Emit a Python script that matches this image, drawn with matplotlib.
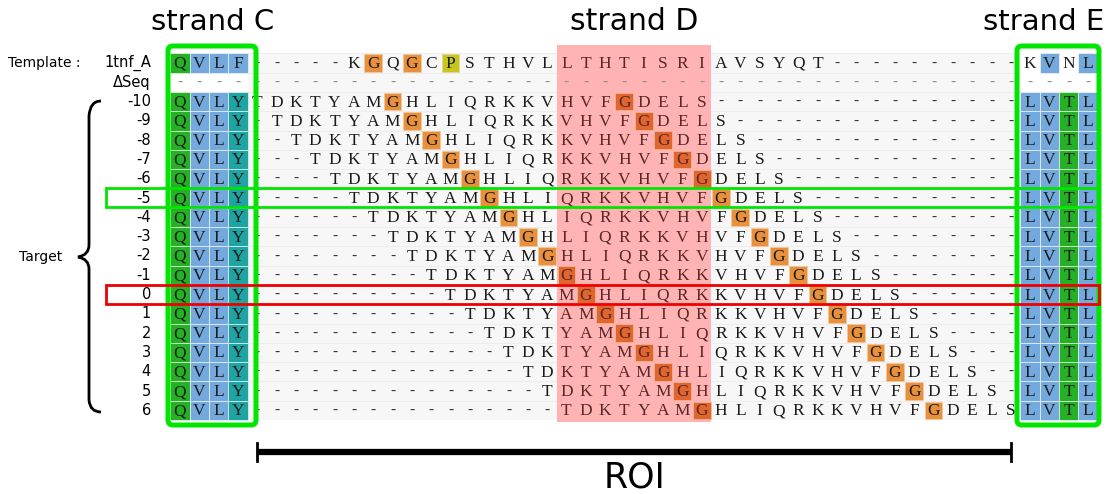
import numpy as np
import matplotlib.pyplot as plt
from matplotlib.patches import Rectangle, FancyBboxPatch, PathPatch
from matplotlib.path import Path

# alignment data
template_name = "1tnf_A"
template_seq = "QVLF" + "-----" + "KGQGCPSTHVL" + "LTHTISRI" + "AVSYQT" + "----------" + "KVNL"
target_core = "TDKTYAMGHLIQRKKVHVFGDELS"
strand_c_target = "QVLY"
strand_e_target = "LVTL"
shifts = [-10, -9, -8, -7, -6, -5, -4, -3, -2, -1, 0, 1, 2, 3, 4, 5, 6]
n_gap = 16

# column blocks
strand_c_cols = (0, 3)
strand_d_cols = (20, 27)
strand_e_cols = (44, 47)
roi_cols = (4, 43)
good_shift = -5
best_shift = 0

# colours
green = "#25b025"
blue = "#74a9dd"
teal = "#20a3a3"
orange = "#e8903c"
orange_d = "#e0652e"
olive = "#c6c61c"
pink = "#ffb3b3"
box_green = "#00e600"

c_colours_tpl = [green, blue, blue, blue]
c_colours_tgt = [green, blue, blue, teal]
e_colours_tpl = [None, blue, None, blue]
e_colours_tgt = [blue, blue, green, blue]

rows = [template_seq, "-" * len(template_seq)]
labels = [template_name, "\u0394Seq"]
for s in shifts:
    k = s - shifts[0]
    rows.append(strand_c_target + "-" * k + target_core + "-" * (n_gap - k) + strand_e_target)
    labels.append(str(s))

ncol = len(template_seq)

# pixel -> grid units (cell = 19.32 x 19.3 px)
def gx(px):
    return (px - 180) / 19.32

def gy(py):
    return (py - 63) / 19.3

fig = plt.figure(figsize=(11.18, 4.94), dpi=100)
ax = fig.add_axes([0, 0, 1, 1])
ax.set_xlim(gx(0), gx(1118))
ax.set_ylim(gy(494), gy(0))
ax.axis("off")

# faint background behind the alignment
ax.add_patch(Rectangle((strand_c_cols[1] + 0.5, -0.5), roi_cols[1] - roi_cols[0] + 1, len(rows),
                       facecolor="#f7f7f7", edgecolor="none", zorder=0))
for r in range(len(rows)):
    ax.plot([3.5, 43.5], [r - 0.5, r - 0.5], color="#ececec", lw=0.6, zorder=0.5)

# strand D band
ax.add_patch(Rectangle((strand_d_cols[0] - 0.5, gy(45)), strand_d_cols[1] - strand_d_cols[0] + 1,
                       gy(422) - gy(45), facecolor=pink, edgecolor="none", zorder=1))

def cell(c, r, col, size=1.0):
    d = (1 - size) / 2
    ax.add_patch(Rectangle((c - 0.5 + d, r - 0.5 + d), size, size, facecolor=col,
                           edgecolor="white" if size == 1.0 else "#f2c9a0",
                           lw=0.4, zorder=2))

for r, seq in enumerate(rows):
    for c, ch in enumerate(seq):
        colour = None
        if r == 0:
            if c <= 3:
                colour = c_colours_tpl[c]
            elif c >= strand_e_cols[0]:
                colour = e_colours_tpl[c - strand_e_cols[0]]
            elif ch == "G":
                colour = orange
            elif ch == "P":
                colour = olive
        elif r >= 2:
            if c <= 3:
                colour = c_colours_tgt[c]
            elif c >= strand_e_cols[0]:
                colour = e_colours_tgt[c - strand_e_cols[0]]
            elif ch == "G":
                colour = orange_d if strand_d_cols[0] <= c <= strand_d_cols[1] else orange
        if colour is not None:
            small = ch == "G" or ch == "P"
            cell(c, r, colour, 0.92 if small else 1.0)
        if ch == "-":
            tc = "#8c8c8c" if r == 1 else "#333333"
            ax.text(c, r, "-", ha="center", va="center", fontsize=11, color=tc,
                    family="Liberation Serif", zorder=3)
        else:
            in_d = strand_d_cols[0] <= c <= strand_d_cols[1]
            tc = "#5a2626" if in_d else "#1a1a1a"
            ax.text(c, r + 0.05, ch, ha="center", va="center", fontsize=12.5, color=tc,
                    family="Liberation Serif", zorder=3)

# row labels
ax.text(gx(8), 0, "Template :", ha="left", va="center", fontsize=10, family="DejaVu Sans")
for r, lab in enumerate(labels):
    ax.text(gx(151), r, lab, ha="right", va="center", fontsize=10.5, family="DejaVu Sans")
ax.text(gx(41), gy(257), "Target", ha="center", va="center", fontsize=10, family="DejaVu Sans")

# curly brace for the target rows
pts = [(101, 101), (90, 101), (89, 116),
       (89, 245), (89, 255), (78, 257),
       (89, 259), (89, 269),
       (89, 400), (90, 412), (101, 412)]
codes = [Path.MOVETO, Path.CURVE3, Path.CURVE3,
         Path.LINETO, Path.CURVE3, Path.CURVE3,
         Path.CURVE3, Path.CURVE3,
         Path.LINETO, Path.CURVE3, Path.CURVE3]
brace = Path([(gx(x), gy(y)) for x, y in pts], codes)
ax.add_patch(PathPatch(brace, facecolor="none", edgecolor="black", lw=2.0, zorder=3))

# strand boxes
for c0, c1 in [(gx(168), gx(256)), (gx(1017), gx(1099))]:
    ax.add_patch(FancyBboxPatch((c0, gy(46)), c1 - c0, gy(425) - gy(46),
                                boxstyle="round,pad=0,rounding_size=0.25",
                                facecolor="none", edgecolor=box_green, lw=3.6, zorder=4))

# highlighted shifts
for s, col in [(good_shift, box_green), (best_shift, "#ee0000")]:
    r = 2 + shifts.index(s)
    ax.add_patch(Rectangle((gx(106), r - 0.52), gx(1099) - gx(106), 1.0,
                           facecolor="none", edgecolor=col, lw=2.0, zorder=4))

# titles
ax.text(sum(strand_c_cols) / 2 + 0.2, gy(22), "strand C", ha="center", va="center", fontsize=21)
ax.text(sum(strand_d_cols) / 2, gy(22), "strand D", ha="center", va="center", fontsize=21.5)
ax.text(sum(strand_e_cols) / 2 - 0.8, gy(22), "strand E", ha="center", va="center", fontsize=21)

# region of interest bar
yb = gy(452)
ax.plot([roi_cols[0], roi_cols[1]], [yb, yb], color="black", lw=4.5, solid_capstyle="butt")
for c in roi_cols:
    ax.plot([c, c], [gy(443), gy(461)], color="black", lw=2)
ax.text(sum(roi_cols) / 2, gy(477), "ROI", ha="center", va="center", fontsize=25)

fig.savefig("out.png", dpi=100)
